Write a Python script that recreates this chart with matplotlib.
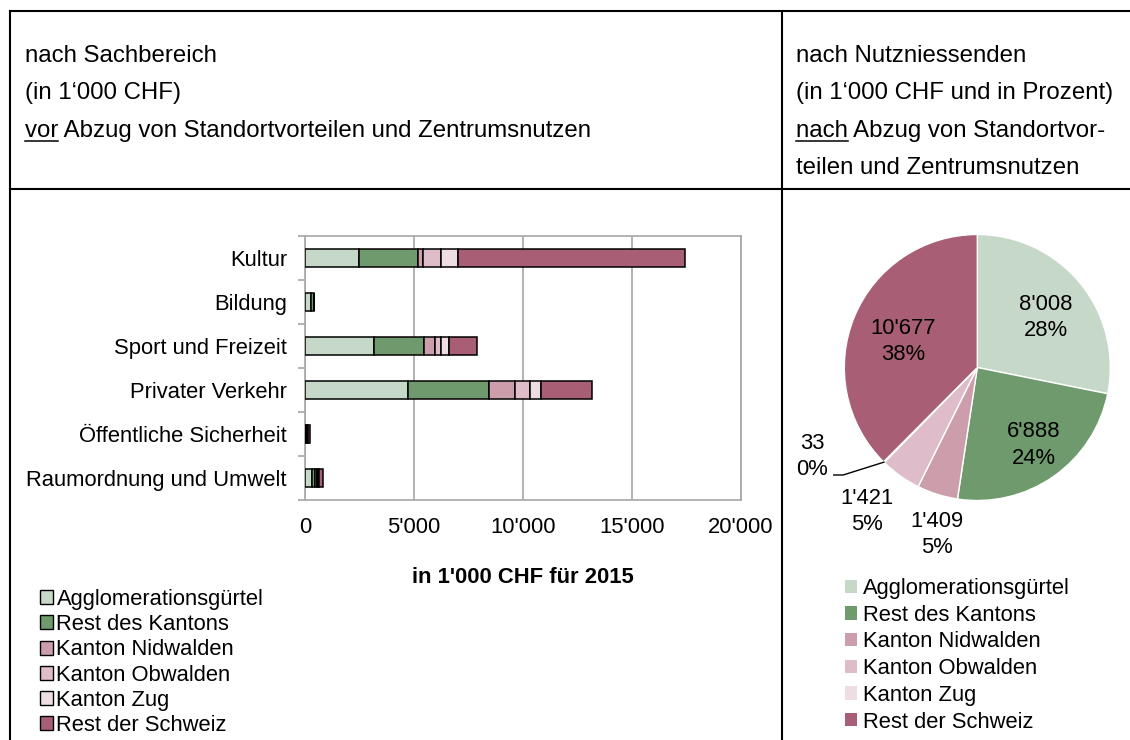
import matplotlib
matplotlib.use("Agg")
import matplotlib.pyplot as plt
from matplotlib.lines import Line2D
from matplotlib.patches import Patch
import numpy as np

plt.rcParams['font.family'] = ['Liberation Sans', 'DejaVu Sans']

# ---------------- data ----------------
categories = ["Kultur", "Bildung", "Sport und Freizeit", "Privater Verkehr",
              "Öffentliche Sicherheit", "Raumordnung und Umwelt"]
series_names = ["Agglomerationsgürtel", "Rest des Kantons", "Kanton Nidwalden",
                "Kanton Obwalden", "Kanton Zug", "Rest der Schweiz"]
agglo      = [2485, 260, 3186, 4710, 60, 300]
rest_kt    = [2713, 140, 2287, 3750, 50, 170]
nidwalden  = [213, 10, 473, 1174, 20, 60]
obwalden   = [838, 5, 305, 686, 15, 50]
zug        = [747, 5, 335, 503, 15, 40]
rest_ch    = [10427, 10, 1326, 2363, 60, 220]
x_ticks = [0, 5000, 10000, 15000, 20000]
x_ticklabels = ["0", "5'000", "10'000", "15'000", "20'000"]

pie_values = [8008, 6888, 1409, 1421, 33, 10677]

colors = ["#C6D8C8", "#6E9A6E", "#CC9EAB", "#DFBCC9", "#EEDEE3", "#A85E75"]

W, H = 1130, 740
fig = plt.figure(figsize=(W / 100, H / 100), dpi=100)

def fx(x):
    return x / W

def fy(y):
    return 1 - y / H

# ---------------- table frame ----------------
lw_frame = 1.5
for (x0, y0, x1, y1) in [(10, 11, 1130, 11), (10, 11, 10, 740),
                         (781.5, 11, 781.5, 740), (10, 188.5, 1130, 188.5)]:
    fig.add_artist(Line2D([fx(x0), fx(x1)], [fy(y0), fy(y1)], color="black",
                          lw=lw_frame, transform=fig.transFigure))

hfs = 17.3
left_rows = ["nach Sachbereich", "(in 1‘000 CHF)",
             "vor Abzug von Standortvorteilen und Zentrumsnutzen"]
right_rows = ["nach Nutzniessenden", "(in 1‘000 CHF und in Prozent)",
              "nach Abzug von Standortvor-", "teilen und Zentrumsnutzen"]
baselines = [61.7, 99.2, 136.7, 174.2]
for s, b in zip(left_rows, baselines):
    fig.text(fx(25), fy(b), s, fontsize=hfs, va="baseline", ha="left")
for s, b in zip(right_rows, baselines):
    fig.text(fx(796), fy(b), s, fontsize=hfs, va="baseline", ha="left")

renderer = fig.canvas.get_renderer()
for word, x in [("vor", 25), ("nach", 796)]:
    t = fig.text(fx(x), fy(136.7), word, fontsize=hfs, va="baseline", ha="left",
                 alpha=0)
    bb = t.get_window_extent(renderer)
    wpx = bb.width
    t.remove()
    fig.add_artist(Line2D([fx(x), fx(x + wpx)], [fy(140.5), fy(140.5)],
                          color="black", lw=1.1, transform=fig.transFigure))

# ---------------- stacked bar chart ----------------
fs = 15.8
ax = fig.add_axes([fx(305), fy(500), fx(741) - fx(305), fy(236) - fy(500)])
series = [agglo, rest_kt, nidwalden, obwalden, zug, rest_ch]
ypos = np.arange(len(categories))
left = np.zeros(len(categories))
for name, vals, c in zip(series_names, series, colors):
    ax.barh(ypos, vals, left=left, height=0.4, color=c,
            edgecolor="black", linewidth=1.1, label=name, zorder=3)
    left = left + np.array(vals)

ax.set_xlim(0, 20000)
ax.set_ylim(len(categories) - 0.5, -0.5)
ax.set_xticks(x_ticks)
ax.set_xticklabels(x_ticklabels, fontsize=fs)
ax.set_yticks(ypos)
ax.set_yticklabels(categories, fontsize=fs)
ax.set_yticks(np.arange(-0.5, len(categories)), minor=True)
ax.tick_params(axis="y", which="major", length=0, pad=13)
ax.tick_params(axis="y", which="minor", length=5, width=1.2, color="#A6A6A6",
               direction="out")
ax.tick_params(axis="x", length=0, pad=12)
ax.grid(axis="x", color="#A6A6A6", linewidth=1.2, zorder=0)
for sp in ax.spines.values():
    sp.set_color("#A6A6A6")
    sp.set_linewidth(1.2)
ax.set_xlabel("in 1'000 CHF für 2015", fontsize=fs, fontweight="bold",
              labelpad=21)

fig.legend(handles=[Patch(facecolor=c, edgecolor="black", linewidth=1.0)
                    for c in colors],
           labels=series_names, loc="upper left",
           bbox_to_anchor=(fx(40), fy(589)), frameon=False, fontsize=fs,
           borderpad=0, borderaxespad=0, handlelength=0.6, handleheight=0.6,
           handletextpad=0.15, labelspacing=0.19)

# ---------------- pie chart ----------------
R = 133
cx, cy = 977.3, 367.5
pax = fig.add_axes([fx(cx - R), fy(cy + R), fx(2 * R), (2 * R) / H])
wedges, _ = pax.pie(pie_values, colors=colors, startangle=90, counterclock=False,
                    wedgeprops=dict(edgecolor="white", linewidth=1.0))
pax.set_xlim(-1, 1)
pax.set_ylim(-1, 1)
pax.set_aspect("equal")
pax.axis("off")

total = sum(pie_values)
label_r = [0.64, 0.72, 1.29, 1.36, 1.41, 0.59]
label_dang = [-3, 1, 4, -2, -17, 3]
for i, (w, v) in enumerate(zip(wedges, pie_values)):
    mid = np.deg2rad((w.theta1 + w.theta2) / 2 + label_dang[i])
    lx, ly = label_r[i] * np.cos(mid), label_r[i] * np.sin(mid)
    txt = f"{v:,}".replace(",", "'") + "\n" + f"{round(v / total * 100)}%"
    pax.text(lx, ly, txt, ha="center", va="center", fontsize=fs,
             multialignment="center", linespacing=1.32)
    if i == 4:
        m0 = np.deg2rad((w.theta1 + w.theta2) / 2)
        pax.plot([np.cos(m0), lx + 0.232, lx + 0.161],
                 [np.sin(m0), ly - 0.138, ly - 0.138],
                 color="black", lw=1.0, clip_on=False)

fig.legend(handles=[Patch(facecolor=c, edgecolor="none") for c in colors],
           labels=series_names, loc="upper left",
           bbox_to_anchor=(fx(845), fy(578)), frameon=False, fontsize=fs,
           borderpad=0, borderaxespad=0, handlelength=0.55, handleheight=0.55,
           handletextpad=0.28, labelspacing=0.26)

fig.savefig("out.png", dpi=100)
